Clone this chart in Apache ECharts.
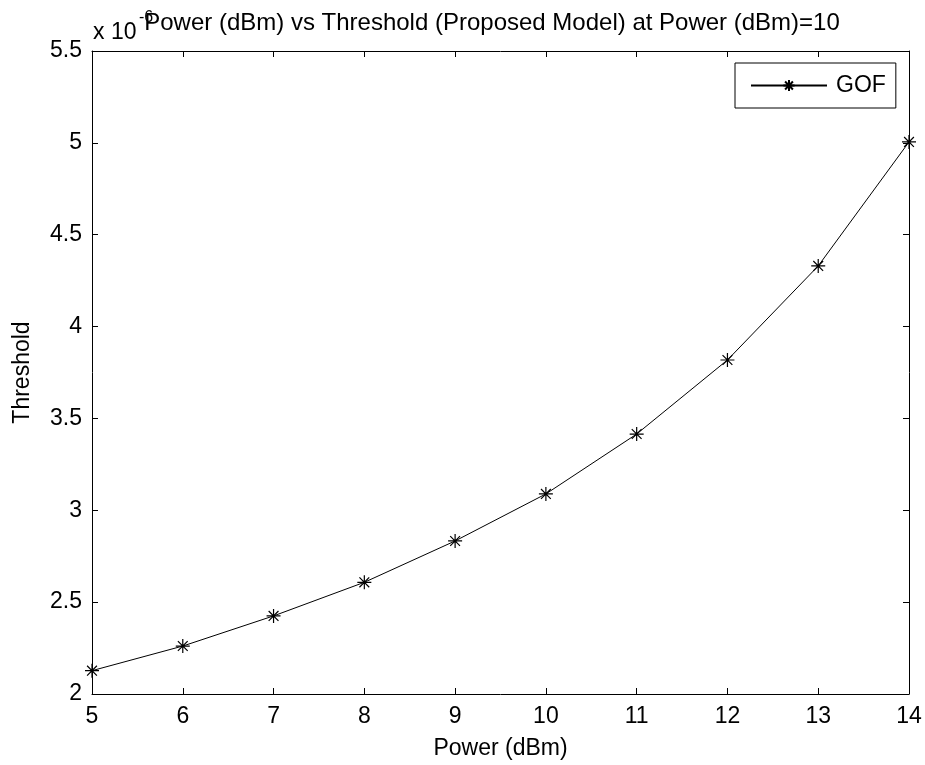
<!DOCTYPE html>
<html>
<head>
<meta charset="utf-8">
<title>Power vs Threshold</title>
<script src="https://cdn.jsdelivr.net/npm/echarts@6/dist/echarts.min.js"></script>
<style>
  html, body { margin: 0; padding: 0; background: #fff; }
  #chart { width: 925px; height: 765px; }
</style>
</head>
<body>
<div id="chart"></div>
<script>
// Transmit power levels (dBm)
const powerDbm = [5, 6, 7, 8, 9, 10, 11, 12, 13, 14];
// Threshold values, in units of 1e-6
const thresholdE6 = [2.127, 2.261, 2.425, 2.608, 2.833, 3.089, 3.415, 3.818, 4.330, 5.005];
const seriesName = 'GOF';
const titleText = 'Power (dBm) vs Threshold (Proposed Model) at Power (dBm)=10';

const FONT = 'Liberation Sans, Arial, sans-serif';
const FS = 23;

const points = powerDbm.map((p, i) => [p, thresholdE6[i]]);
const asterisk = 'path://M0,-10L0,10M-10,0L10,0M-7,-7L7,7M-7,7L7,-7';

const axisCommon = {
  axisLine: { show: true, lineStyle: { color: '#000', width: 1 } },
  axisTick: { show: true, inside: true, length: 6, lineStyle: { color: '#000', width: 1 } },
  splitLine: { show: false }
};

const chart = echarts.init(document.getElementById('chart'), null, { renderer: 'canvas' });
chart.setOption({
  backgroundColor: '#fff',
  animation: false,
  textStyle: { fontFamily: FONT, color: '#000' },
  grid: { left: 92, right: 16, top: 51, bottom: 71, containLabel: false },
  legend: {
    data: [seriesName],
    left: 735,
    top: 63,
    orient: 'vertical',
    backgroundColor: '#fff',
    borderColor: '#000',
    borderWidth: 1,
    borderRadius: 0,
    padding: [11, 10, 11, 15],
    itemWidth: 76,
    itemHeight: 14,
    textStyle: { fontFamily: FONT, fontSize: FS, color: '#000', padding: [0, 0, 0, 4] }
  },
  xAxis: [
    Object.assign({}, axisCommon, {
      type: 'value', position: 'bottom', min: 5, max: 14, interval: 1,
      name: 'Power (dBm)', nameLocation: 'middle', nameGap: 43,
      nameTextStyle: { fontFamily: FONT, fontSize: FS, color: '#000' },
      axisLabel: { fontFamily: FONT, fontSize: FS, color: '#000', margin: 11 }
    }),
    Object.assign({}, axisCommon, {
      type: 'value', position: 'top', min: 5, max: 14, interval: 1,
      axisLabel: { show: false }
    })
  ],
  yAxis: [
    Object.assign({}, axisCommon, {
      type: 'value', position: 'left', min: 2, max: 5.5, interval: 0.5,
      name: 'Threshold', nameLocation: 'middle', nameGap: 58,
      nameTextStyle: { fontFamily: FONT, fontSize: FS, color: '#000' },
      axisLabel: { fontFamily: FONT, fontSize: FS, color: '#000', margin: 10 }
    }),
    Object.assign({}, axisCommon, {
      type: 'value', position: 'right', min: 2, max: 5.5, interval: 0.5,
      axisLabel: { show: false }
    })
  ],
  graphic: [
    {
      type: 'text', left: 93, top: 21,
      style: { text: 'x 10', fontFamily: FONT, fontSize: FS, fill: '#000' }
    },
    {
      type: 'text', left: 139, top: 10,
      style: { text: '-6', fontFamily: FONT, fontSize: 16, fill: '#000' }
    },
    {
      type: 'text', x: 492, y: 23,
      style: {
        text: titleText, fontFamily: FONT, fontSize: 24, fill: '#000',
        align: 'center', verticalAlign: 'middle'
      }
    }
  ],
  series: [{
    name: seriesName,
    type: 'line',
    data: points,
    symbol: asterisk,
    symbolSize: 14,
    showAllSymbol: true,
    lineStyle: { color: '#000', width: 1 },
    itemStyle: { color: '#000', borderColor: '#000', borderWidth: 1.2 },
    emphasis: { disabled: true },
    z: 5
  }]
});
</script>
</body>
</html>
